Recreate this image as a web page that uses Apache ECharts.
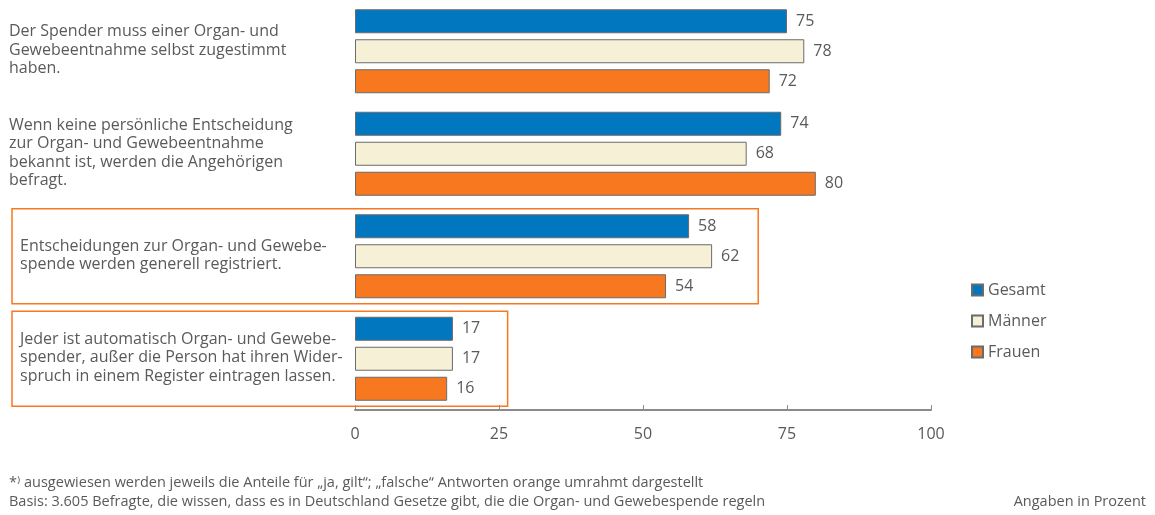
<!DOCTYPE html>
<html><head><meta charset="utf-8">
<script src="https://cdn.jsdelivr.net/npm/echarts@6/dist/echarts.min.js"></script>
<style>html,body{margin:0;padding:0;background:#fff}#c{width:1155px;height:515px}</style>
</head><body><div id="c"></div>
<script>
const categories = [
  'Der Spender muss einer Organ- und\nGewebeentnahme selbst zugestimmt\nhaben.',
  'Wenn keine persönliche Entscheidung\nzur Organ- und Gewebeentnahme\nbekannt ist, werden die Angehörigen\nbefragt.',
  'Entscheidungen zur Organ- und Gewebe-\nspende werden generell registriert.',
  'Jeder ist automatisch Organ- und Gewebe-\nspender, außer die Person hat ihren Wider-\nspruch in einem Register eintragen lassen.'
];
const seriesNames = ['Gesamt', 'Männer', 'Frauen'];
const gesamt = [75, 74, 58, 17];
const maenner = [78, 68, 62, 17];
const frauen = [72, 80, 54, 16];
const falseIdx = [2, 3];
const footnote = '*⁾ ausgewiesen werden jeweils die Anteile für „ja, gilt“; „falsche“ Antworten orange umrahmt dargestellt';
const basis = 'Basis: 3.605 Befragte, die wissen, dass es in Deutschland Gesetze gibt, die die Organ- und Gewebespende regeln';
const unitNote = 'Angaben in Prozent';

const FONT = '"Open Sans", sans-serif';
const GRAY = '#5a5a5a';
const colors = ['#0077bf', '#f5f0d6', '#f7781e'];
const values = [gesamt, maenner, frauen];

const chart = echarts.init(document.getElementById('c'), null, {renderer: 'canvas'});

const series = seriesNames.map((name, i) => ({
  name, type: 'bar', data: values[i],
  barWidth: 24, barGap: '25%',
  itemStyle: {color: colors[i], borderColor: '#6b6b6b', borderWidth: 1},
  label: {show: true, position: 'right', distance: 9, color: GRAY, fontFamily: FONT, fontSize: 16},
  emphasis: {disabled: true}
}));

chart.setOption({
  animation: false,
  textStyle: {fontFamily: FONT},
  grid: {left: 355, right: 224, top: 0, bottom: 105, containLabel: false, outerBoundsMode: 'none'},
  legend: {
    data: seriesNames, orient: 'vertical', left: 966, top: 276,
    itemWidth: 11, itemHeight: 11, itemGap: 13, icon: 'rect',
    textStyle: {color: GRAY, fontFamily: FONT, fontSize: 16, lineHeight: 18},
    selectedMode: false
  },
  xAxis: {
    type: 'value', min: 0, max: 100, interval: 25,
    axisLine: {show: true, lineStyle: {color: '#8a8a8a', width: 2}},
    axisTick: {show: true, inside: true, length: 5, lineStyle: {color: '#8a8a8a', width: 1}},
    axisLabel: {color: GRAY, fontFamily: FONT, fontSize: 16, margin: 16},
    splitLine: {show: false}
  },
  yAxis: {
    type: 'category', inverse: true, data: categories,
    axisLine: {show: false}, axisTick: {show: false},
    axisLabel: {show: false}
  },
  series
});

// category texts (left column) and orange frames around the "false" statements
const boxRightValue = {2: 70, 3: 26.5};
const graphics = [];
categories.forEach((c, i) => {
  const cy = chart.convertToPixel({yAxisIndex: 0}, i);
  const framed = falseIdx.includes(i);
  graphics.push({
    type: 'text', id: 'cat' + i, x: framed ? 20 : 9, y: cy - 1,
    style: {text: c, fill: GRAY, font: '16px ' + FONT, lineHeight: 18.5, verticalAlign: 'middle', align: 'left'}
  });
  if (framed) {
    const xr = chart.convertToPixel({xAxisIndex: 0}, boxRightValue[i]);
    graphics.push({
      type: 'rect', id: 'box' + i, z: 10,
      shape: {x: 12, y: cy - 47.5, width: xr - 12, height: 95},
      style: {fill: 'none', stroke: '#f7781e', lineWidth: 1.5}
    });
  }
});
graphics.push(
  {type: 'text', id: 'fn', left: 9, top: 475, style: {text: footnote, fill: GRAY, font: '14.5px ' + FONT}},
  {type: 'text', id: 'basis', left: 9, top: 494, style: {text: basis, fill: GRAY, font: '14.5px ' + FONT}},
  {type: 'text', id: 'unit', right: 9, top: 494, style: {text: unitNote, fill: GRAY, font: '14.5px ' + FONT}}
);
chart.setOption({graphic: graphics});
</script></body></html>
